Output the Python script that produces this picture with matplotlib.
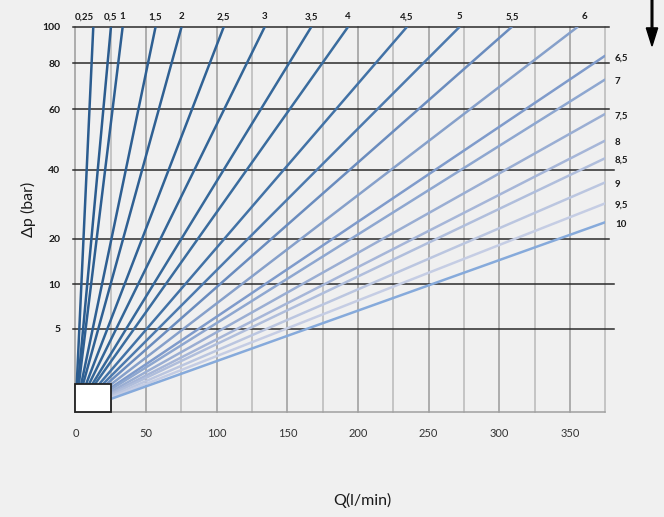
import numpy as np
import matplotlib
matplotlib.use("Agg")
import matplotlib.pyplot as plt
from matplotlib.patches import Rectangle, FancyArrow

plt.rcParams['font.family'] = ['Lato', 'DejaVu Sans']

# --- data ---
# lines that leave the chart through the top edge (dp = 100 bar)
top_labels = ['0,25', '0,5', '1', '1,5', '2', '2,5', '3', '3,5', '4', '4,5', '5', '5,5', '6']
top_q = [12.6, 25.1, 33.4, 56.7, 75.1, 105.0, 134.0, 167.0, 193.0, 234.7, 272.0, 309.0, 355.6]
# lines that leave the chart through the right edge (Q = 375 l/min)
right_labels = ['6,5', '7', '7,5', '8', '8,5', '9', '9,5', '10']
right_dp = [84.2, 73.0, 58.5, 49.7, 43.9, 36.4, 30.3, 24.8]

q_max = 375
dp_max = 100
y_ticks = [5, 10, 20, 40, 60, 80, 100]
x_ticks = [0, 50, 100, 150, 200, 250, 300, 350]

# non-linear pressure axis used in the original diagram
scale_vals = np.array([0, 5, 10, 20, 40, 60, 80, 100])
scale_pos = np.array([0, 82.6, 127.3, 172.9, 241.6, 302.3, 348.3, 384.9])


def fwd(v):
    return np.interp(v, scale_vals, scale_pos)


def inv(p):
    return np.interp(p, scale_pos, scale_vals)


top_colors = ['#2b5c8f', '#2b5c8f', '#2d5e91', '#2e5f92', '#2f6093', '#306295',
              '#336597', '#36689a', '#3a6c9e', '#4272a6', '#4d7aae', '#6a8cbe', '#86a0ca']
right_colors = ['#7f9bcb', '#8ea7d0', '#9aaed3', '#a6b6d8', '#b0bedc', '#bbc6e0',
                '#c5cde4', '#86aadb']

bg = '#f0f0f0'
fig = plt.figure(figsize=(6.64, 5.17), dpi=100, facecolor=bg)
ax = fig.add_axes([0.1137, 0.2039, 0.7979, 0.7445], facecolor=bg)
ax.set_yscale('function', functions=(fwd, inv))
ax.set_xlim(0, q_max)
ax.set_ylim(0, dp_max)

# vertical grid
for q in range(0, q_max + 1, 25):
    c = '#9a9a9a' if q % 50 == 0 else '#b8b8b8'
    ax.plot([q, q], [0, dp_max], color=c, lw=1.1, zorder=1, clip_on=False)
ax.plot([0, q_max], [0, 0], color='#a0a0a0', lw=1.1, zorder=1, clip_on=False)

# horizontal lines
for v in y_ticks:
    x_end = 381 if v in (40, 10, 5) else 377.5
    ax.plot([-2, x_end], [v, v], color='#2a2a2a', lw=1.1, zorder=2, clip_on=False)

# characteristic lines
for lab, q, c in zip(top_labels, top_q, top_colors):
    ax.plot([0, q], [0, dp_max], color=c, lw=1.8, zorder=3, solid_capstyle='butt')
    nudge = {'0,25': -6.5, '6': 4.5}.get(lab, 0)
    ax.annotate(lab, (q + nudge, dp_max), xytext=(0, 7), textcoords='offset points',
                ha='center', va='center', fontsize=7, fontweight='bold',
                color='#1a1a1a', annotation_clip=False)

for lab, v, c in zip(right_labels, right_dp, right_colors):
    ax.plot([0, q_max], [0, v], color=c, lw=1.8, zorder=3, solid_capstyle='butt')
    ax.annotate(lab, (q_max, v), xytext=(7, -1.5), textcoords='offset points',
                ha='left', va='center', fontsize=7, fontweight='bold',
                color='#1a1a1a', annotation_clip=False)

# box at the origin
ax.add_patch(Rectangle((0, 0), 25, 1.67, facecolor='white', edgecolor='#222222',
                       lw=1.3, zorder=4, clip_on=False))

ax.set_xticks(x_ticks)
ax.set_xticklabels([str(x) for x in x_ticks], fontsize=8, color='#333333')
ax.set_yticks(y_ticks)
ax.set_yticklabels([str(y) for y in y_ticks], fontsize=7.5, fontweight='bold',
                   color='#1a1a1a')
ax.tick_params(length=0, pad=12)
ax.tick_params(axis='y', pad=11)
for s in ax.spines.values():
    s.set_visible(False)

fig.text(0.043, 0.595, 'Δp (bar)', rotation=90, ha='center', va='center',
         fontsize=11.5, color='#1a1a1a')
fig.text(0.545, 0.032, 'Q(l/min)', ha='center', va='center', fontsize=11.5,
         color='#1a1a1a')

# arrow at the top right corner
fig.patches.append(FancyArrow(
    652 / 664, 1.0, 0, -46 / 517, width=0.0025, head_width=0.017,
    head_length=0.035, length_includes_head=True, color='black',
    transform=fig.transFigure, figure=fig))

fig.savefig('out.png', dpi=100, facecolor=bg)
